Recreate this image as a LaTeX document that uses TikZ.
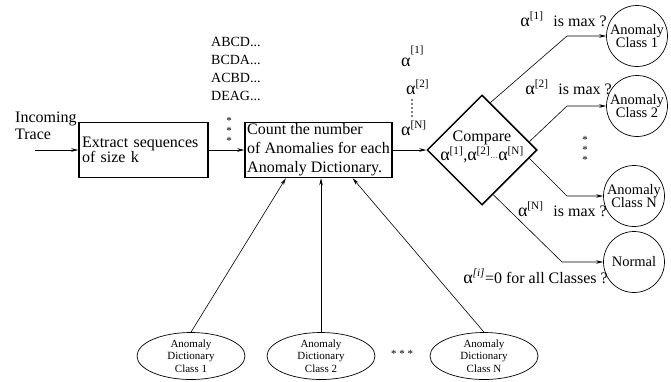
\documentclass[tikz,border=0pt]{standalone}
\usepackage{fontspec}
\setmainfont{Liberation Serif}
\usetikzlibrary{shapes.geometric,arrows.meta,calc}
\newcommand{\galpha}{{\fontsize{18}{18}\selectfont α}}

\begin{document}
\begin{tikzpicture}[x=1pt,y=-1pt,
            font=\fontsize{16}{19}\selectfont,
            process/.style={draw, line width=1.5pt, align=left, inner sep=1pt, minimum height=55pt},
            classnode/.style={draw, circle, line width=0.7pt, minimum size=61pt, inner sep=0pt, align=center, font=\fontsize{14.5}{13.5}\selectfont},
            dictnode/.style={draw, ellipse, line width=0.7pt, minimum width=108pt, minimum height=47pt, inner sep=0pt, align=center, font=\fontsize{11}{12.5}\selectfont},
            stars/.style={align=center, inner sep=0pt, font=\fontsize{11}{10}\selectfont},
            flow/.style={line width=0.6pt, -{Stealth[length=7pt,width=3.5pt]}}
            ]
            \useasboundingbox (0,0) rectangle (671,381);

            \node[anchor=west, align=left, inner sep=0pt, font=\fontsize{16}{17}\selectfont] (trace) at (15,125.5) {Incoming\\Trace};
            \coordinate (in) at (35,150);
            \node[process, text width=123pt, inner xsep=3pt, font=\fontsize{16}{15}\selectfont] (extract) at (143.5,150) {Extract sequences\\of size k};
            \node[process, minimum width=147pt, inner xsep=2pt] (count) at (318.5,150) {Count the number\\of Anomalies for each\\Anomaly Dictionary.};
            \node[anchor=west, align=left, inner sep=0pt, font=\fontsize{14}{18}\selectfont] (seqs) at (211,69) {ABCD...\\BCDA...\\ACBD...\\DEAG...};
            \node[stars] (seqdots) at (229,131) {*\\*\\*};

            \node[draw, diamond, aspect=1, line width=1.5pt, minimum size=110pt, inner sep=0pt] (cmp) at (482,150) {};
            \node[align=center, inner sep=0pt] (cmptxt) at (482,147) {Compare\\\galpha\textsuperscript{[1]},\galpha\textsuperscript{[2]}{\fontsize{8}{8}\selectfont ···}\galpha\textsuperscript{[N]}};

            \node[anchor=base west, inner sep=0pt] (a1) at (401,66) {\galpha\raisebox{13pt}{\fontsize{11}{11}\selectfont[1]}};
            \node[anchor=base west, inner sep=0pt] (a2) at (406,94) {\galpha\textsuperscript{[2]}};
            \node[anchor=base west, inner sep=0pt] (aN) at (401,135) {\galpha\textsuperscript{[N]}};
            \draw[gray, line width=1.5pt, dash pattern=on 1.5pt off 2.5pt] (412,99) -- (412,118);

            \node[classnode] (c1) at (637,36) {Anomaly\\Class 1};
            \node[classnode] (c2) at (637,106) {Anomaly\\Class 2};
            \node[classnode] (cN) at (634,196) {Anomaly\\Class N};
            \node[classnode] (norm) at (634,262) {Normal};
            \node[stars] (cdots) at (585,150) {*\\*\\*};

            \node[anchor=base east, inner sep=0pt] (lab1) at (607,26) {\galpha\textsuperscript{[1]}\hspace{10pt}is max ?};
            \node[anchor=base east, inner sep=0pt] (lab2) at (612,94) {\galpha\textsuperscript{[2]}\hspace{10pt}is max ?};
            \node[anchor=base east, inner sep=0pt] (labN) at (607,216) {\galpha\textsuperscript{[N]}\hspace{10pt}is max ?};
            \node[anchor=base east, inner sep=0pt] (labnorm) at (608,283) {\galpha\textsuperscript{\textit{[i]}}=0 for all Classes ?};

            \coordinate (b1) at (567,36);
            \coordinate (b2) at (567,106);
            \coordinate (bN) at (567,196);
            \coordinate (bnorm) at (562,262);

            \node[dictnode] (d1) at (191,356) {Anomaly\\Dictionary\\Class 1};
            \node[dictnode] (d2) at (321,356) {Anomaly\\Dictionary\\Class 2};
            \node[dictnode] (dN) at (484,356) {Anomaly\\Dictionary\\Class N};
            \node[inner sep=0pt, font=\fontsize{11}{11}\selectfont] (ddots) at (402,354) {* * *};

            \draw[flow] (in) -- (extract);
            \draw[flow] (extract) -- (count);
            \draw[flow] (count) -- (cmp);
            \draw[flow] ($(cmp.north)!0.15!(cmp.east)$) -- (b1) -- (c1);
            \draw[flow] ($(cmp.north)!0.85!(cmp.east)$) -- (b2) -- (c2);
            \draw[flow] ($(cmp.east)!0.15!(cmp.south)$) -- (bN) -- (cN);
            \draw[flow] ($(cmp.east)!0.8!(cmp.south)$) -- (bnorm) -- (norm);
            \draw[flow] (d1.north) -- ($(count.south west)!0.28!(count.south east)$);
            \draw[flow] (d2.north) -- (d2.north |- count.south);
            \draw[flow] (dN.north) -- ($(count.south west)!0.73!(count.south east)$);
        \end{tikzpicture}
\end{document}
